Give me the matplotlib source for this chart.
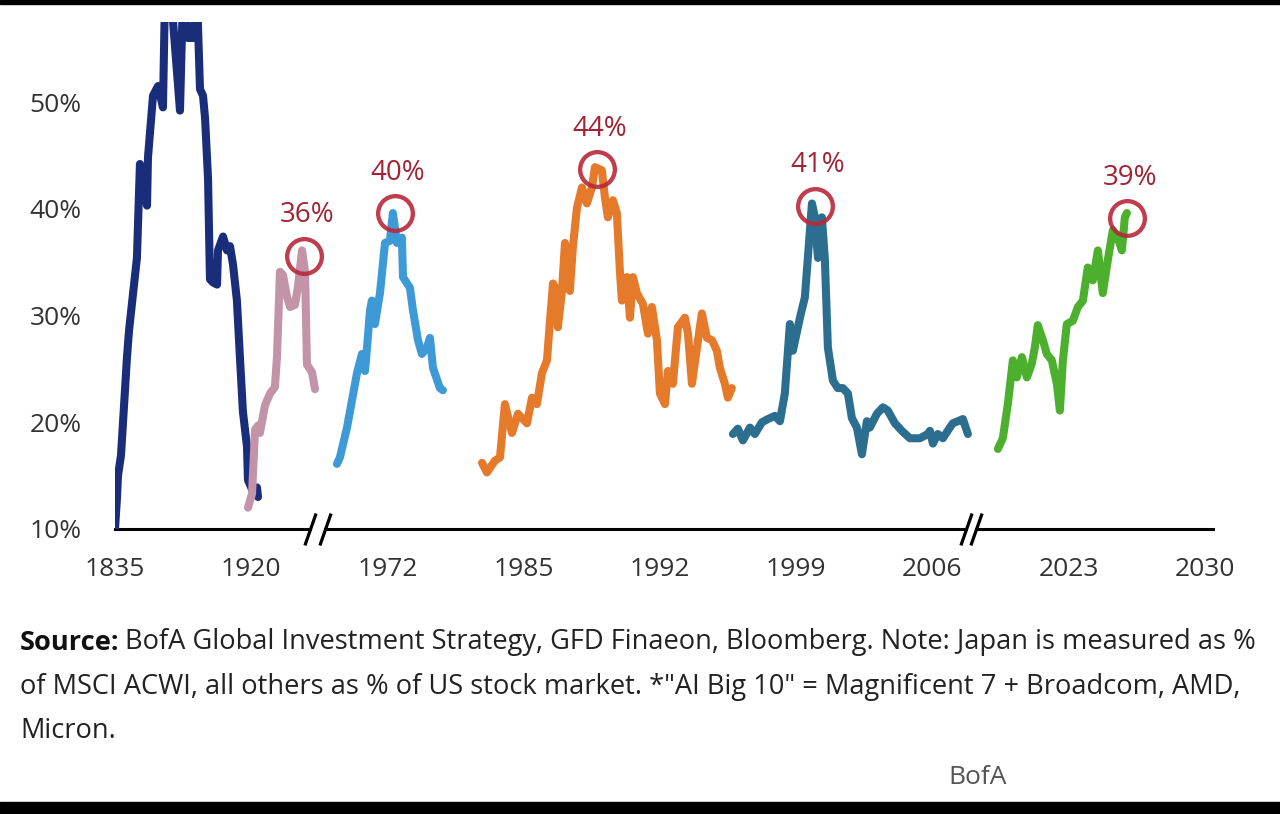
import matplotlib
matplotlib.use("Agg")
import matplotlib.pyplot as plt
from matplotlib.patches import Rectangle

plt.rcParams['font.family'] = ['Open Sans', 'DejaVu Sans']

# x = position along the broken time axis, one tick label every 10 units
TICK_POS = [0, 10, 20, 30, 40, 50, 60, 70, 80]
TICK_LABELS = ['1835', '1920', '1972', '1985', '1992', '1999', '2006', '2023', '2030']
Y_TICKS = [10, 20, 30, 40, 50]

navy_x = [0.0, 0.15, 0.22, 0.44, 0.88, 1.03, 1.61, 1.83, 2.35, 2.42, 2.79, 3.16, 3.52,
          3.67, 4.11, 4.77, 4.99, 5.36, 5.73, 6.02, 6.24, 6.46, 6.61, 6.83, 6.97, 7.19,
          7.49, 7.56, 7.93, 8.22, 8.44, 8.66, 8.95, 9.17, 9.39, 9.69, 9.76, 10.06, 10.42, 10.50]
navy_y = [10.0, 13.0, 15.0, 16.9, 26.1, 28.6, 35.4, 44.2, 40.3, 44.8, 50.6, 51.5, 49.5,
          60, 60, 49.2, 60, 56.0, 56.0, 60, 51.2, 50.6, 48.5, 42.8, 33.4, 33.1,
          32.9, 36.1, 37.4, 36.1, 36.5, 34.8, 31.4, 26.1, 21.0, 17.7, 14.6, 13.7, 13.9, 13.0]

pink_x = [9.76, 10.06, 10.28, 10.50, 10.64, 11.01, 11.38, 11.74, 11.89, 12.11, 12.33,
          12.62, 12.85, 13.21, 13.43, 13.73, 13.95, 14.09, 14.46, 14.68]
pink_y = [12.0, 13.3, 19.3, 19.7, 19.0, 21.6, 22.7, 23.3, 26.1, 34.1, 33.8,
          31.8, 30.8, 31.0, 32.7, 36.1, 34.1, 25.4, 24.7, 23.1]

blue_x = [16.29, 16.51, 17.03, 17.39, 17.76, 18.13, 18.35, 18.50, 18.72, 18.86, 19.08,
          19.45, 19.82, 20.18, 20.40, 20.70, 21.06, 21.14, 21.65, 21.87, 22.24, 22.53,
          22.90, 23.12, 23.34, 23.85, 24.07]
blue_y = [16.1, 16.7, 19.5, 22.0, 24.6, 26.4, 24.8, 27.0, 30.5, 31.4, 29.2,
          32.1, 36.8, 37.0, 39.6, 36.8, 37.3, 33.6, 32.6, 30.5, 27.7, 26.4,
          27.0, 27.9, 25.1, 23.2, 23.0]

orange_x = [26.94, 27.30, 27.89, 28.26, 28.62, 29.14, 29.58, 30.24, 30.61, 30.97,
            31.34, 31.71, 31.93, 32.15, 32.44, 32.51, 32.81, 33.03, 33.39, 33.61,
            33.91, 34.28, 34.64, 35.01, 35.23, 35.74, 35.96, 36.18, 36.55, 36.84,
            37.06, 37.21, 37.58, 37.80, 38.02, 38.31, 38.75, 39.12, 39.41, 39.78,
            40.00, 40.37, 40.59, 40.95, 41.32, 41.83, 42.06, 42.35, 42.72, 43.08,
            43.45, 43.82, 44.18, 44.40, 44.77, 44.99, 45.28]
orange_y = [16.2, 15.3, 16.4, 16.7, 21.7, 19.0, 20.8, 19.9, 22.3, 21.7,
            24.6, 25.8, 29.5, 33.0, 32.3, 28.9, 32.3, 36.8, 32.3, 36.4,
            40.1, 42.0, 40.5, 42.0, 43.9, 43.6, 41.1, 39.2, 40.8, 39.6,
            34.2, 31.4, 33.6, 29.8, 33.6, 32.1, 31.1, 28.3, 30.8, 27.7,
            22.7, 21.7, 24.8, 23.6, 28.9, 29.8, 28.3, 23.6, 27.0, 30.2,
            27.9, 27.7, 26.7, 25.1, 23.6, 22.3, 23.2]

teal_x = [45.36, 45.72, 46.09, 46.61, 46.97, 47.49, 47.93, 48.44, 48.81, 49.17, 49.54,
          49.76, 50.28, 50.64, 50.86, 51.16, 51.38, 51.60, 51.89, 52.11,
          52.33, 52.70, 53.06, 53.43, 53.80, 54.09, 54.46, 54.83, 55.19, 55.41,
          55.93, 56.37, 56.73, 57.25, 57.76, 58.35, 59.08, 59.67, 59.82, 60.04,
          60.40, 60.77, 61.28, 61.50, 61.87, 62.24, 62.61]
teal_y = [18.9, 19.4, 18.3, 19.5, 18.9, 20.0, 20.3, 20.6, 20.1, 22.7, 29.2,
          26.7, 29.8, 31.7, 35.4, 40.5, 39.2, 35.4, 39.2, 35.2,
          27.0, 23.9, 23.2, 23.2, 22.7, 20.4, 19.5, 17.0, 20.1, 19.5,
          20.8, 21.4, 21.1, 19.9, 19.2, 18.5, 18.5, 18.9, 19.2, 18.0,
          18.9, 18.5, 19.5, 19.9, 20.1, 20.3, 18.9]

green_x = [64.81, 65.17, 65.54, 65.91, 66.20, 66.57, 66.94, 67.30, 67.52, 67.74,
           68.11, 68.40, 68.77, 69.14, 69.36, 69.58, 69.87, 70.31, 70.68, 71.05,
           71.41, 71.78, 72.15, 72.51, 72.88, 73.25, 73.61, 73.91, 74.13, 74.28]
green_y = [17.5, 18.5, 21.7, 25.8, 24.2, 26.1, 24.2, 25.5, 27.0, 29.1,
           27.7, 26.4, 25.8, 23.6, 21.1, 25.8, 29.2, 29.5, 30.8, 31.4,
           34.5, 33.3, 36.1, 32.1, 35.2, 38.0, 37.3, 36.1, 39.2, 39.6]

peak_x = [13.87, 20.55, 35.38, 51.38, 74.28]
peak_y = [35.6, 39.6, 43.7, 40.3, 39.1]
peak_labels = ['36%', '40%', '44%', '41%', '39%']

AXIS_BREAKS = [(14.3, 15.4), (62.5, 63.2)]

fig = plt.figure(figsize=(12.8, 8.14), dpi=100)
ax = fig.add_axes([115 / 1280, 1 - 529 / 814, 1098 / 1280, 507 / 814])
ax.set_xlim(0, 80.6)
ax.set_ylim(10, 57.5)

series = [
    (navy_x, navy_y, '#1a2d7a'),
    (pink_x, pink_y, '#c393a7'),
    (blue_x, blue_y, '#3d9ad6'),
    (orange_x, orange_y, '#e67a2b'),
    (teal_x, teal_y, '#2c6e8f'),
    (green_x, green_y, '#4caf2e'),
]
for xs, ys, c in series:
    ax.plot(xs, ys, color=c, lw=5.8, solid_joinstyle='round', solid_capstyle='round', zorder=3)

ax.plot(peak_x, peak_y, ls='none', marker='o', ms=25, mfc='none', mec='#b8283a',
        mew=3.1, alpha=0.9, zorder=4)
for px, py, lab in zip(peak_x, peak_y, peak_labels):
    ax.annotate(lab, (px, py), xytext=(2, 29), textcoords='offset points',
                ha='center', va='center', fontsize=20, color='#a32335')

# axis line with break marks
edges = [0] + [v for b in AXIS_BREAKS for v in b] + [80.6]
for a, b in zip(edges[::2], edges[1::2]):
    ax.plot([a, b], [10, 10], color='black', lw=2.2, clip_on=False, zorder=2)
for b in AXIS_BREAKS:
    ax.plot(b, [10, 10], ls='none', marker=[(-0.35, -1), (0.35, 1)], ms=23, mew=2.3,
            color='black', clip_on=False, zorder=2)

for s in ax.spines.values():
    s.set_visible(False)
ax.set_xticks(TICK_POS, TICK_LABELS)
ax.set_yticks(Y_TICKS, [f'{v}%' for v in Y_TICKS])
ax.tick_params(axis='both', length=0, labelsize=19, labelcolor='#333333')
ax.tick_params(axis='x', pad=20)
ax.tick_params(axis='y', pad=24)

# footnote
FS = 19.6
t1 = fig.text(20 / 1280, 1 - 650 / 814, 'Source:', fontsize=FS, weight='bold', color='#111111',
              va='baseline')
ax.annotate('BofA Global Investment Strategy, GFD Finaeon, Bloomberg. Note: Japan is measured as %',
            xy=(1, 0), xycoords=t1, xytext=(4, 0), textcoords='offset points',
            va='bottom', ha='left', fontsize=FS, color='#222222', annotation_clip=False)
fig.text(20 / 1280, 1 - 694 / 814,
         'of MSCI ACWI, all others as % of US stock market. *"AI Big 10" = Magnificent 7 + Broadcom, AMD,',
         fontsize=FS, color='#222222', va='baseline')
fig.text(20 / 1280, 1 - 738 / 814, 'Micron.', fontsize=FS, color='#222222', va='baseline')
fig.text(948 / 1280, 1 - 784 / 814, 'BofA', fontsize=19, color='#555555', va='baseline')

# screenshot borders
fig.add_artist(Rectangle((0, 1 - 4 / 814), 1, 4 / 814, transform=fig.transFigure,
                         color='black', zorder=10))
fig.add_artist(Rectangle((0, 0), 1, 12 / 814, transform=fig.transFigure,
                         color='black', zorder=10))

fig.savefig('out.png', dpi=100)
